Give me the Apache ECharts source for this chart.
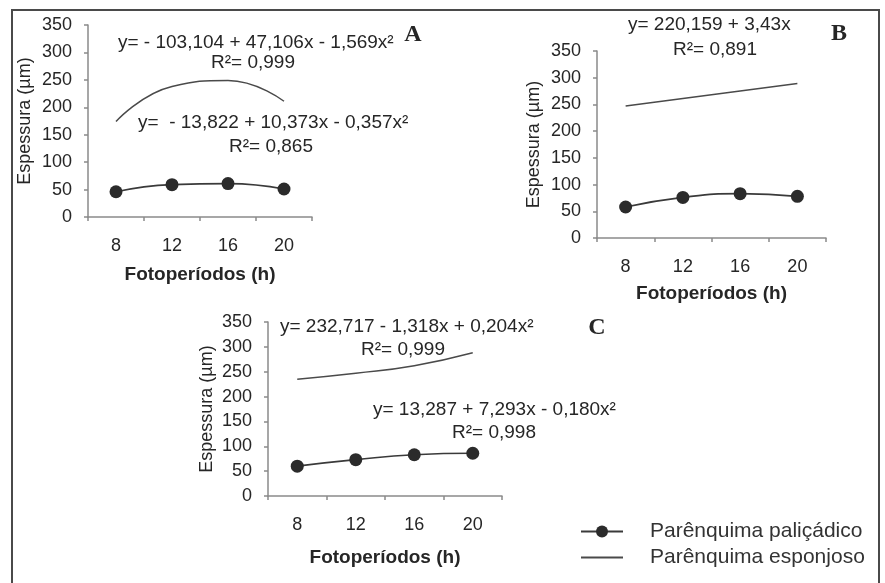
<!DOCTYPE html>
<html>
<head>
<meta charset="utf-8">
<title>Espessura x Fotoperíodos</title>
<script src="https://cdn.jsdelivr.net/npm/echarts/dist/echarts.min.js"></script>
<style>
  body { margin: 0; background: #fff; }
  #main { width: 885px; height: 583px; }
</style>
</head>
<body>
<div id="main"></div>
<script>
var fotoperiodos = ['8', '12', '16', '20'];

// painel A
var paliA = [46, 59, 61, 51];
var espoA = [174, 238, 249, 211];
// painel B
var paliB = [58, 76, 83, 78];
var espoB = [247, 261, 275, 289];
// painel C
var paliC = [60, 73, 83, 86];
var espoC = [235, 247, 262, 288];

var nomePali = 'Parênquima paliçádico';
var nomeEspo = 'Parênquima esponjoso';

var sans = '"Liberation Sans", Arial, Helvetica, sans-serif';
var serif = '"Liberation Serif", "Times New Roman", serif';
var txtColor = '#262626';
var axisColor = '#8a8a8a';

var chart = echarts.init(document.getElementById('main'));

function xAxisFor(idx, gap) {
  return {
    type: 'category',
    gridIndex: idx,
    data: fotoperiodos,
    boundaryGap: true,
    name: 'Fotoperíodos (h)',
    nameLocation: 'middle',
    nameGap: gap,
    nameTextStyle: { fontFamily: sans, fontSize: 19, fontWeight: 'bold', color: txtColor },
    axisLine: { lineStyle: { color: axisColor, width: 1.5 } },
    axisTick: { show: true, length: 4, lineStyle: { color: axisColor, width: 1.5 } },
    axisLabel: { fontFamily: sans, fontSize: 18, color: txtColor, margin: 20 },
    splitLine: { show: false }
  };
}

function yAxisFor(idx, gap) {
  return {
    type: 'value',
    gridIndex: idx,
    min: 0,
    max: 350,
    interval: 50,
    name: 'Espessura (µm)',
    nameLocation: 'middle',
    nameGap: gap,
    nameTextStyle: { fontFamily: sans, fontSize: 18, color: txtColor },
    axisLine: { show: true, lineStyle: { color: axisColor, width: 1.5 } },
    axisTick: { show: true, length: 4, lineStyle: { color: axisColor, width: 1.5 } },
    axisLabel: { fontFamily: sans, fontSize: 18, color: txtColor, margin: 16 },
    splitLine: { show: false }
  };
}

function paliSeries(idx, data) {
  return {
    name: nomePali,
    type: 'line',
    xAxisIndex: idx,
    yAxisIndex: idx,
    data: data,
    smooth: true,
    symbol: 'circle',
    symbolSize: 13,
    itemStyle: { color: '#2b2b2b' },
    lineStyle: { color: '#3a3a3a', width: 1.7 }
  };
}

function espoSeries(idx, data, smooth) {
  return {
    name: nomeEspo,
    type: 'line',
    xAxisIndex: idx,
    yAxisIndex: idx,
    data: data,
    smooth: smooth,
    symbol: 'none',
    itemStyle: { color: '#4a4a4a' },
    lineStyle: { color: '#4a4a4a', width: 1.5 }
  };
}

function texto(x, y, s, font, align) {
  return {
    type: 'text',
    x: x,
    y: y,
    style: {
      text: s,
      font: font,
      fill: txtColor,
      align: align || 'left',
      verticalAlign: 'middle'
    }
  };
}

var eqFont = 'normal 19px ' + sans;
var letraFont = 'bold 24px ' + serif;

var option = {
  animation: false,
  backgroundColor: '#fff',
  grid: [
    { left: 88, top: 25, width: 224, height: 192 },
    { left: 597, top: 51, width: 229, height: 187 },
    { left: 268, top: 322, width: 234, height: 174 }
  ],
  xAxis: [xAxisFor(0, 48), xAxisFor(1, 46), xAxisFor(2, 52)],
  yAxis: [yAxisFor(0, 54), yAxisFor(1, 54), yAxisFor(2, 52)],
  legend: {
    orient: 'vertical',
    left: 580,
    top: 521,
    padding: 0,
    itemWidth: 42,
    itemHeight: 15,
    itemGap: 5,
    data: [
      { name: nomePali },
      { name: nomeEspo, itemStyle: { opacity: 0 } }
    ],
    textStyle: { fontFamily: sans, fontSize: 21, color: '#333', padding: [0, 0, 0, 22] }
  },
  series: [
    paliSeries(0, paliA),
    espoSeries(0, espoA, true),
    paliSeries(1, paliB),
    espoSeries(1, espoB, false),
    paliSeries(2, paliC),
    espoSeries(2, espoC, true)
  ],
  graphic: [
    // moldura
    { type: 'polyline', shape: { points: [[12, 583], [12, 10], [879, 10], [879, 583]] },
      style: { stroke: '#4a4a4a', lineWidth: 2, fill: null } },
    // painel A
    texto(118, 43, 'y= - 103,104 + 47,106x - 1,569x²', eqFont),
    texto(211, 63, 'R²= 0,999', eqFont),
    texto(138, 123, 'y=  - 13,822 + 10,373x - 0,357x²', eqFont),
    texto(229, 147, 'R²= 0,865', eqFont),
    texto(413, 35, 'A', letraFont, 'center'),
    // painel B
    texto(628, 25, 'y= 220,159 + 3,43x', eqFont),
    texto(673, 50, 'R²= 0,891', eqFont),
    texto(839, 34, 'B', letraFont, 'center'),
    // painel C
    texto(280, 327, 'y= 232,717 - 1,318x + 0,204x²', eqFont),
    texto(361, 350, 'R²= 0,999', eqFont),
    texto(373, 410, 'y= 13,287 + 7,293x - 0,180x²', eqFont),
    texto(452, 433, 'R²= 0,998', eqFont),
    texto(597, 328, 'C', letraFont, 'center')
  ]
};

chart.setOption(option);
</script>
</body>
</html>
